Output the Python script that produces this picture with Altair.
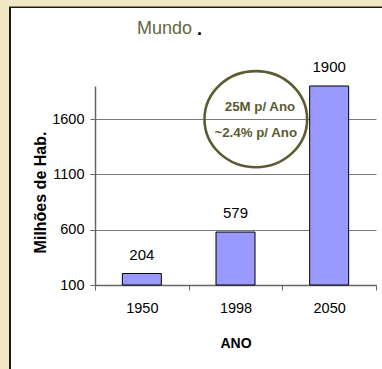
import altair as alt
import pandas as pd

# ---- data ----
anos = ["1950", "1998", "2050"]
populacao = [204, 579, 1900]
y_ticks = [100, 600, 1100, 1600]
y_domain = [100, 1900]
titulo = "Mundo"
anot_1 = "25M p/ Ano"
anot_2 = "~2.4% p/ Ano"
anot_nivel = 1600

df = pd.DataFrame({"ano": anos, "pop": populacao})
one = pd.DataFrame({"k": [0]})

BEIGE = "#F2E8C4"
OLIVE = "#5C5B32"
TITLE_OLIVE = "#66663F"
BAR = "#9999FF"
GRID = "#7A7A7A"
FONT = "Liberation Sans, Arial, sans-serif"

x_enc = alt.X(
    "ano:N", sort=anos,
    scale=alt.Scale(paddingInner=0, paddingOuter=0),
    axis=alt.Axis(
        title="ANO", labelAngle=0, tickBand="extent", grid=False,
        domainColor="#666666", domainWidth=1.5, tickColor="#666666", tickSize=5,
        labelFont=FONT, labelFontSize=14.5, labelColor="black", labelPadding=11,
        titleFont=FONT, titleFontSize=14, titleFontWeight="bold", titleColor="black",
        titleBaseline="alphabetic", titleY=62,
    ),
)
y_enc = alt.Y(
    "pop:Q",
    scale=alt.Scale(domain=y_domain, nice=False, zero=False),
    axis=alt.Axis(
        values=y_ticks, format="d", grid=True, gridColor=GRID, gridWidth=1.2,
        domainColor="#666666", domainWidth=1.5, tickColor="#666666", tickSize=5,
        labelFont=FONT, labelFontSize=14.5, labelColor="black", labelPadding=6,
        title="Milhões de Hab.", titleFont=FONT, titleFontSize=16,
        titleFontWeight="bold", titleColor="black",
        titleBaseline="alphabetic", titleX=-50, titleY=106, titleAngle=270,
    ),
)

base = alt.Chart(df)

bars = base.mark_bar(size=39, color=BAR, stroke="black", strokeWidth=1).encode(
    x=x_enc, y=y_enc, y2=alt.datum(y_domain[0])
)
labels = base.mark_text(
    dy=-14, baseline="alphabetic", font=FONT, fontSize=15, color="black"
).encode(x=alt.X("ano:N", sort=anos), y="pop:Q", text="pop:Q")

# frame decoration (beige strips + black border)
strip_left = alt.Chart(one).mark_rect(color=BEIGE).encode(
    x=alt.value(-95), x2=alt.value(-86), y=alt.value(-86), y2=alt.value(283)
)
strip_top = alt.Chart(one).mark_rect(color=BEIGE).encode(
    x=alt.value(-95), x2=alt.value(287), y=alt.value(-86), y2=alt.value(-79.5)
)
border_v = alt.Chart(one).mark_rule(color="#1a1a1a", strokeWidth=2).encode(
    x=alt.value(-85), y=alt.value(-79), y2=alt.value(283)
)
border_h = alt.Chart(one).mark_rule(color="#1a1a1a", strokeWidth=1.6).encode(
    x=alt.value(-86), x2=alt.value(287), y=alt.value(-78.7)
)

title_t = alt.Chart(one).mark_text(
    align="left", baseline="alphabetic", font=FONT, fontSize=18, color=TITLE_OLIVE
).encode(x=alt.value(42), y=alt.value(-52), text=alt.value(titulo))
title_dot = alt.Chart(one).mark_text(
    align="left", baseline="alphabetic", font=FONT, fontSize=18, color="black",
    fontWeight="bold"
).encode(x=alt.value(102), y=alt.value(-51), text=alt.value("."))

ellipse = alt.Chart(one).mark_point(
    shape="M -1 0 A 1 0.936 0 1 0 1 0 A 1 0.936 0 1 0 -1 0 Z",
    size=10527, filled=False, stroke=OLIVE, strokeWidth=2.6, opacity=1,
).encode(x=alt.value(160.8), y=alt.datum(anot_nivel))

ann1 = alt.Chart(one).mark_text(
    align="center", baseline="alphabetic", font=FONT, fontSize=13.3,
    fontWeight="bold", color=OLIVE
).encode(x=alt.value(165), y=alt.value(24.7), text=alt.value(anot_1))
ann2 = alt.Chart(one).mark_text(
    align="center", baseline="alphabetic", font=FONT, fontSize=13.3,
    fontWeight="bold", color=OLIVE
).encode(x=alt.value(160.7), y=alt.value(51.3), text=alt.value(anot_2))

chart = alt.layer(
    strip_left, strip_top, border_v, border_h,
    bars, labels, ellipse, ann1, ann2, title_t, title_dot,
).properties(
    width=281, height=199,
    autosize=alt.AutoSizeParams(type="none"),
    padding={"left": 95, "top": 86, "right": 6, "bottom": 84},
    background="white",
).configure_view(stroke=None)

chart.save("out.html", embed_options={"renderer": "svg", "actions": False})
